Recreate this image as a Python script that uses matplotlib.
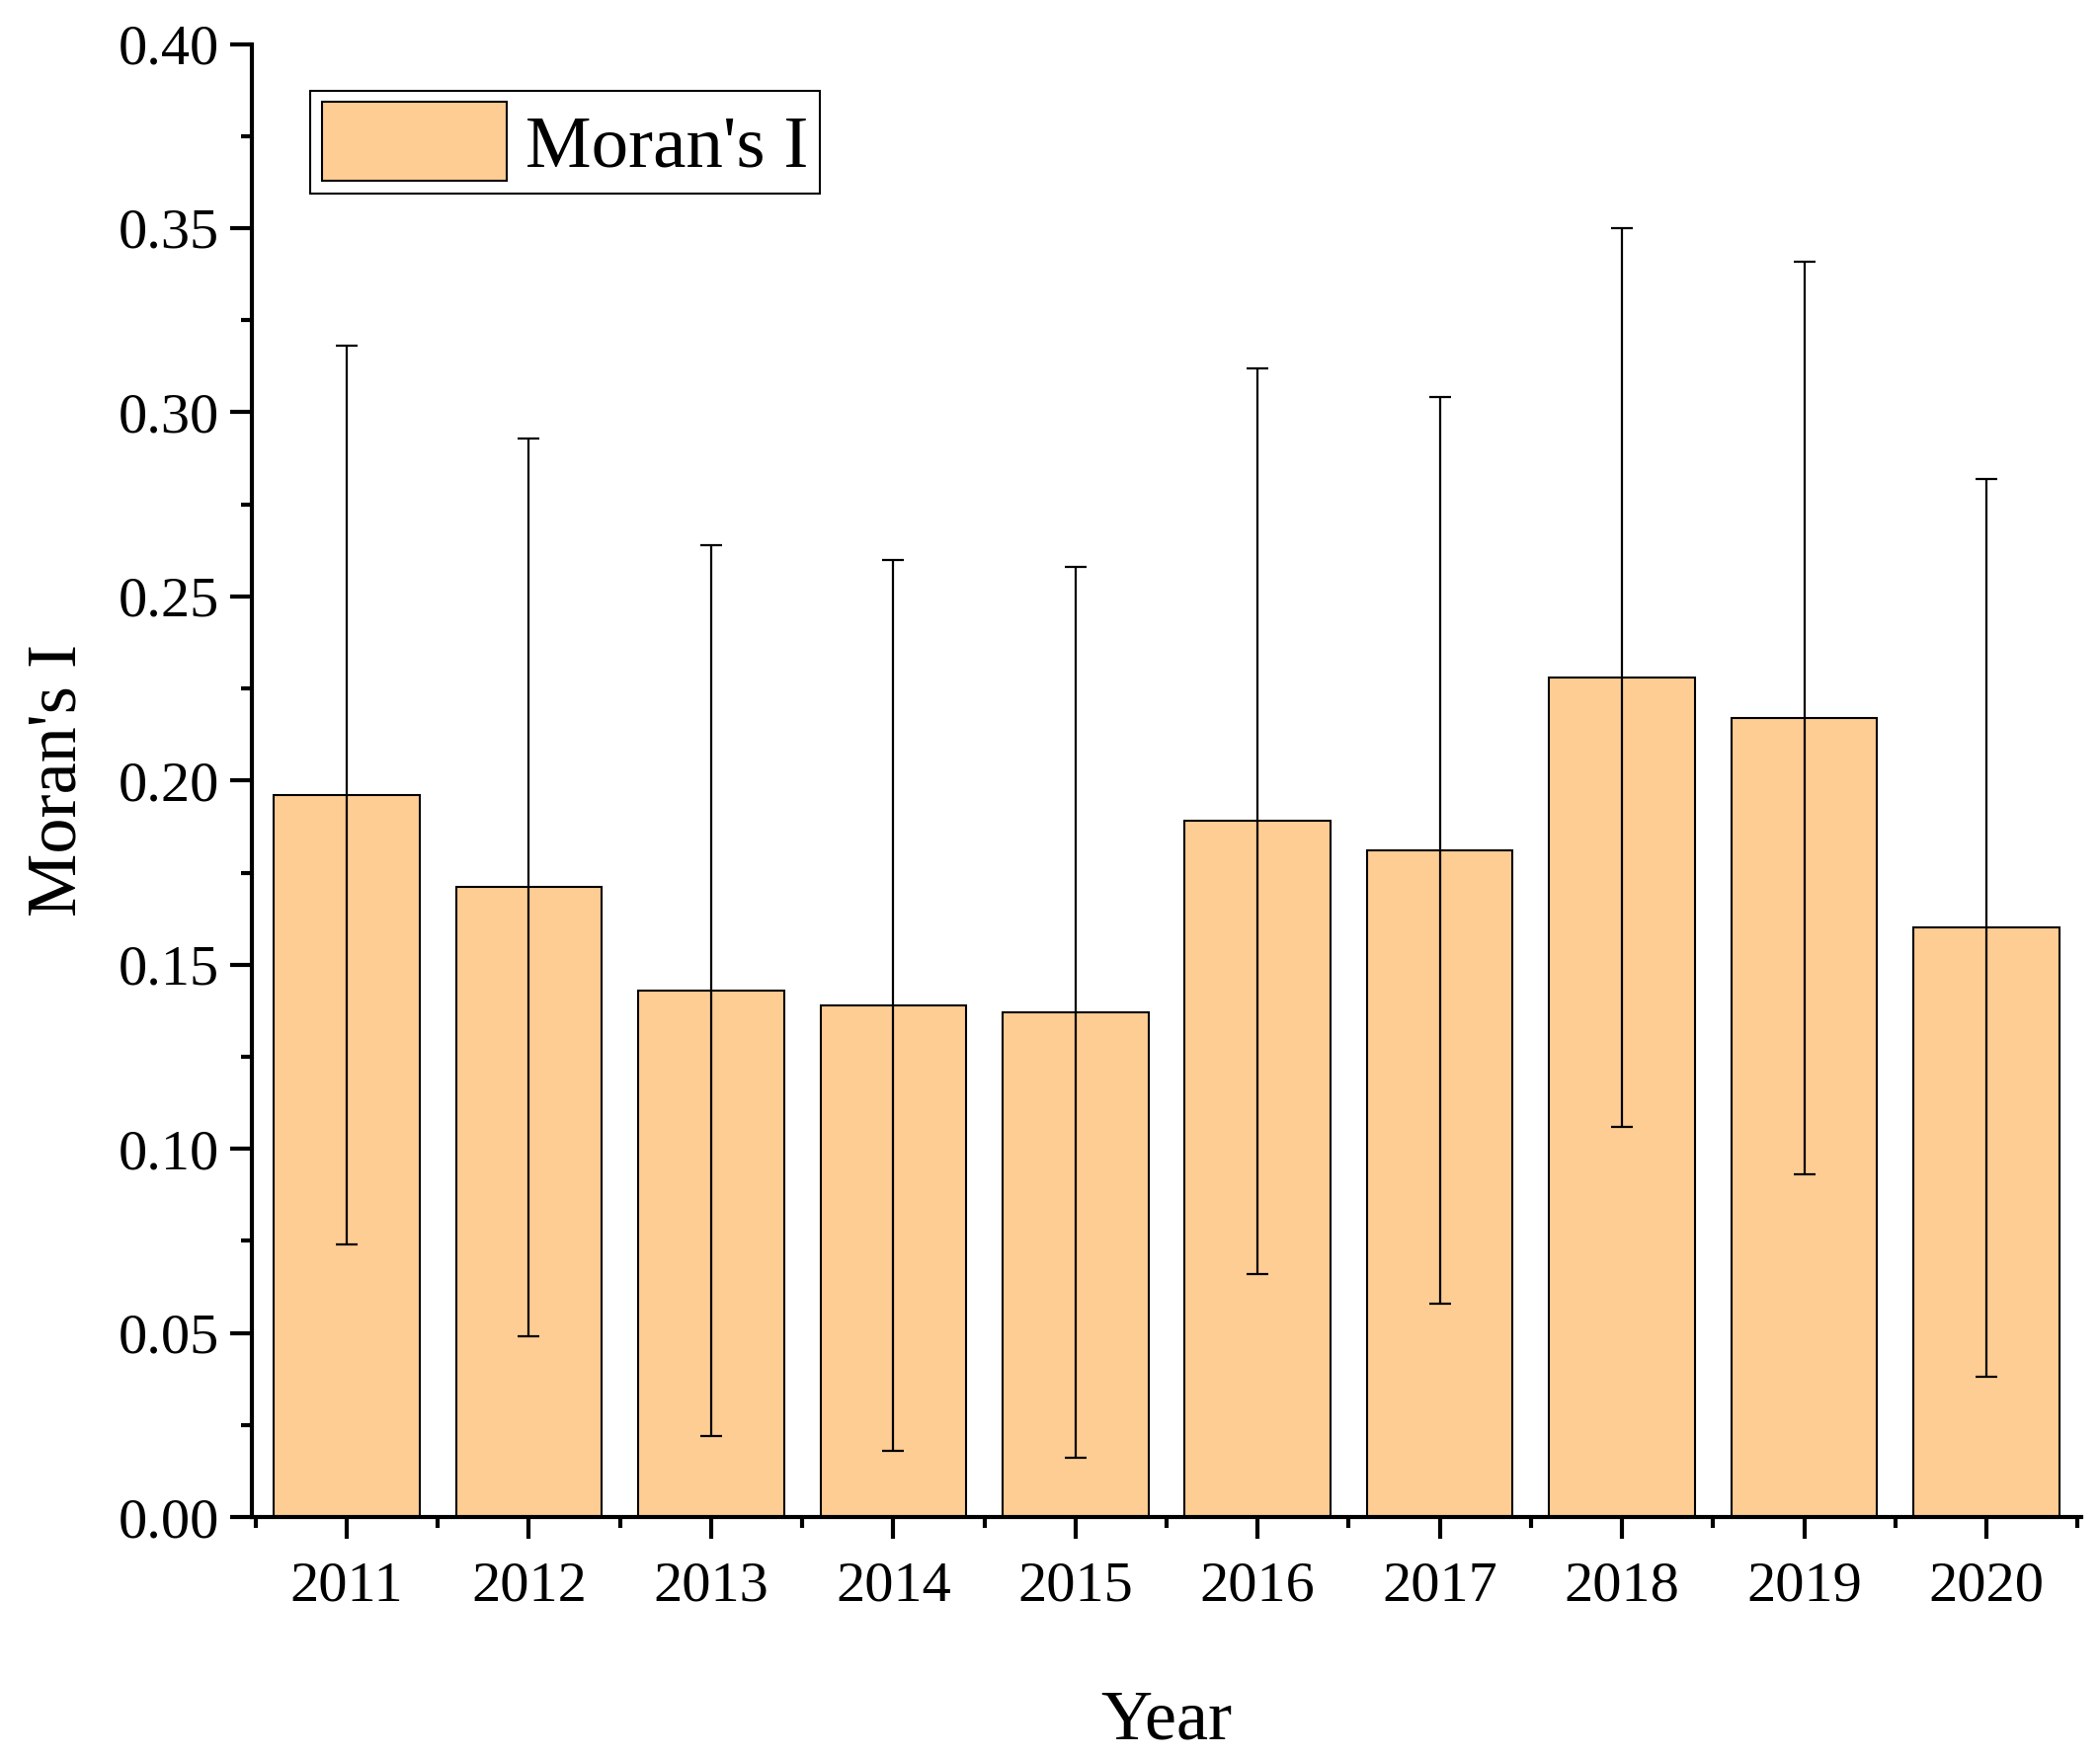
import matplotlib.pyplot as plt
import numpy as np
from matplotlib.ticker import MultipleLocator

# values
years = ["2011", "2012", "2013", "2014", "2015", "2016", "2017", "2018", "2019", "2020"]
morans_i = [0.196, 0.171, 0.143, 0.139, 0.137, 0.189, 0.181, 0.228, 0.217, 0.160]
err = [0.122, 0.122, 0.121, 0.121, 0.121, 0.123, 0.123, 0.122, 0.124, 0.122]

plt.rcParams['font.family'] = ['Liberation Serif', 'DejaVu Serif']

fig = plt.figure(figsize=(21.26, 17.8), dpi=100)
ax = fig.add_axes([0.12, 0.137, 0.871, 0.838])

x = np.arange(len(years))
ax.bar(x, morans_i, width=0.8, color='#FDCD94', edgecolor='black', linewidth=1.5,
       label="Moran's I", zorder=2)
ax.errorbar(x, morans_i, yerr=err, fmt='none', ecolor='black', elinewidth=1.6,
            capsize=8, capthick=1.6, zorder=3)

ax.set_xlim(-0.52, 9.52)
ax.set_ylim(0, 0.40)
ax.set_xticks(x)
ax.set_xticklabels(years)
ax.xaxis.set_minor_locator(MultipleLocator(1, offset=0.5))
ax.yaxis.set_major_locator(MultipleLocator(0.05))
ax.yaxis.set_minor_locator(MultipleLocator(0.025))
ax.yaxis.set_major_formatter(lambda v, p: f"{v:.2f}")

ax.spines['top'].set_visible(False)
ax.spines['right'].set_visible(False)
ax.spines['left'].set_linewidth(3)
ax.spines['bottom'].set_linewidth(3)
ax.tick_params(which='major', direction='out', length=16, width=3, labelsize=42, pad=8)
ax.tick_params(which='minor', direction='out', length=8, width=3)
ax.tick_params(axis='x', which='major', pad=16)

ax.set_xlabel('Year', fontsize=52, labelpad=56)
ax.set_ylabel("Moran's I", fontsize=52, labelpad=20)

leg = ax.legend(loc='upper left', bbox_to_anchor=(0.032, 0.968), fontsize=54,
                fancybox=False, framealpha=1, edgecolor='black',
                handlelength=2.5, handleheight=1.25, borderpad=0.15,
                handletextpad=0.25, borderaxespad=0)
leg.get_frame().set_linewidth(1.5)

fig.savefig('out.png', dpi=100)
